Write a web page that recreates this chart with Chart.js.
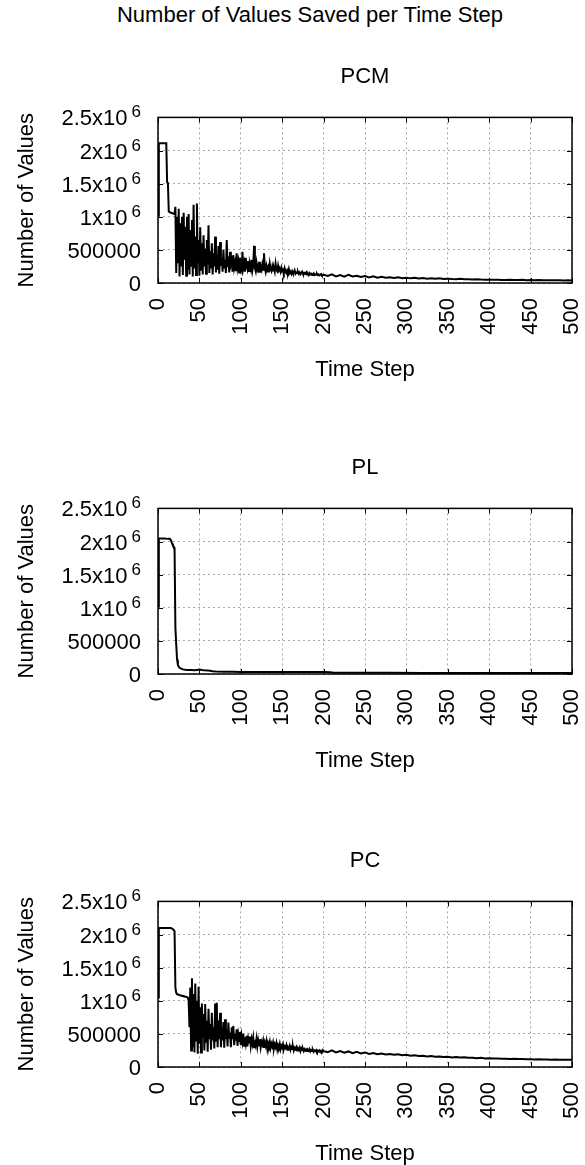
<!DOCTYPE html>
<html>
<head>
<meta charset="utf-8">
<script src="https://cdn.jsdelivr.net/npm/chart.js@4/dist/chart.umd.min.js"></script>
<style>
    html, body { margin: 0; padding: 0; background: #fff; overflow: hidden; }
    body { width: 585px; height: 1165px; position: relative; }
    canvas { position: absolute; left: 0; }
    #mainTitle {
        position: absolute; left: 0; top: 2px; width: 620px;
        text-align: center; font: 22px 'Liberation Sans', Arial, sans-serif;
        line-height: 26px; color: #000;
    }
</style>
</head>
<body>
<div id="mainTitle">Number of Values Saved per Time Step</div>
<canvas id="pcmChart" width="585" height="392" style="top:0px"></canvas>
<canvas id="plChart" width="585" height="392" style="top:391px"></canvas>
<canvas id="pcChart" width="585" height="392" style="top:784px"></canvas>
<script>
// Values are in thousands
// PCM and PC: one value per time step for 0..200, then every 5 steps up to 500
const pcmHead = [
    1020, 2110, 2110, 2110, 2110, 2110, 2110, 2110, 2110, 2110,
    2110, 1520, 1500, 1080, 1070, 1065, 1060, 1055, 1050, 1045,
    1040, 1150, 150, 1000, 300, 1120, 100, 900, 250, 1000,
    120, 1060, 350, 850, 110, 1000, 200, 1040, 130, 800,
    260, 950, 100, 1180, 220, 700, 120, 1200, 300, 650,
    110, 840, 200, 600, 130, 720, 250, 520, 140, 650,
    280, 870, 150, 480, 220, 600, 130, 450, 250, 700,
    160, 420, 200, 560, 140, 620, 260, 380, 170, 500,
    220, 350, 150, 650, 240, 400, 160, 470, 280, 330,
    170, 420, 230, 300, 180, 450, 240, 320, 160, 380,
    250, 200, 470, 230, 300, 170, 380, 260, 210, 330,
    180, 280, 220, 350, 190, 260, 560, 230, 180, 300,
    210, 260, 170, 320, 220, 190, 280, 200, 450, 230,
    170, 260, 200, 240, 160, 290, 210, 180, 250, 190,
    220, 170, 290, 200, 180, 260, 190, 210, 170, 230,
    180, 200, 160, 220, 170, 150, 190, 160, 210, 150,
    170, 140, 180, 150, 160, 190, 140, 160, 150, 170,
    140, 160, 130, 150, 170, 140, 130, 150, 140, 160,
    130, 140, 120, 150, 130, 140, 120, 130, 145, 120,
    130, 125, 140, 120, 130, 115, 125, 135, 115, 120,
    125
];
const pcmTail = [
    105, 130, 100, 120, 95, 125, 100, 110, 90, 105,
    85, 100, 80, 95, 78, 88, 75, 85, 72, 80,
    70, 78, 68, 74, 66, 72, 64, 70, 62, 66,
    60, 58, 64, 56, 55, 54, 58, 52, 50, 50,
    48, 50, 47, 46, 48, 45, 44, 50, 43, 44,
    42, 45, 42, 41, 43, 40, 40, 38, 40, 38
];

const plSteps = [
    0, 1, 4, 8, 12, 14, 15, 16, 17, 18,
    19, 20, 21, 22, 23, 24, 25, 26, 28, 30,
    33, 36, 40, 44, 47, 50, 53, 56, 60, 63,
    66, 70, 80, 90, 100, 120, 140, 160, 180, 200,
    208, 212, 240, 280, 320, 360, 400, 440, 480, 500
];
const plValues = [
    1020, 2045, 2045, 2045, 2040, 2040, 2030, 2010, 1970, 1940,
    1920, 1900, 700, 450, 220, 140, 110, 95, 80, 70,
    64, 60, 60, 58, 62, 66, 60, 56, 52, 48,
    40, 36, 34, 33, 32, 31, 31, 30, 30, 29,
    26, 20, 18, 17, 16, 16, 15, 15, 14, 14
];

const pcHead = [
    1050, 2100, 2100, 2100, 2100, 2100, 2100, 2100, 2100, 2100,
    2100, 2100, 2100, 2100, 2100, 2100, 2095, 2090, 2080, 2070,
    2050, 1200, 1120, 1100, 1100, 1090, 1085, 1080, 1080, 1075,
    1070, 1070, 1065, 1060, 1060, 1055, 1050, 1000, 600, 1200,
    250, 1340, 300, 1100, 220, 1260, 400, 1000, 200, 1210,
    350, 900, 220, 960, 450, 800, 250, 950, 380, 700,
    230, 880, 420, 650, 260, 820, 400, 600, 280, 960,
    380, 970, 300, 700, 420, 820, 300, 600, 400, 680,
    290, 720, 420, 560, 310, 670, 430, 520, 300, 600,
    420, 620, 330, 500, 400, 570, 320, 480, 390, 530,
    330, 470, 380, 500, 320, 450, 360, 470, 310, 430,
    370, 460, 320, 420, 350, 440, 300, 410, 340, 430,
    310, 400, 330, 420, 300, 380, 340, 400, 290, 370,
    320, 390, 280, 360, 320, 380, 290, 350, 310, 370,
    280, 340, 300, 360, 270, 330, 300, 350, 270, 320,
    290, 340, 270, 310, 290, 330, 260, 300, 280, 320,
    260, 300, 270, 310, 250, 290, 270, 300, 250, 280,
    260, 290, 240, 280, 255, 275, 240, 270, 250, 265,
    240, 260, 245, 270, 235, 255, 240, 260, 230, 250,
    240, 255, 230, 248, 235, 250, 228, 245, 232, 255,
    240
];
const pcTail = [
    225, 250, 220, 240, 215, 235, 210, 228, 205, 220,
    198, 212, 192, 205, 188, 196, 184, 192, 176, 184,
    170, 176, 165, 170, 160, 166, 155, 160, 150, 154,
    145, 150, 142, 146, 138, 140, 134, 138, 130, 132,
    127, 130, 124, 126, 121, 124, 119, 121, 117, 118,
    115, 116, 113, 114, 111, 112, 110, 109, 110, 108
];

const xTicksStep = 50;
const yTicksStep = 500000;
const FONT = "'Liberation Sans', Arial, sans-serif";

// time step index for the head and tail parts
const headSteps = pcmHead.map((v, i) => i);
const tailSteps = pcmTail.map((v, i) => 205 + i * 5);

function toPoints(steps, values) {
    return values.map((v, i) => ({ x: steps[i], y: v * 1000 }));
}

// gnuplot-like frame, mirrored inward ticks and 10^6 tick labels
const gnuplotFrame = {
    id: 'gnuplotFrame',
    afterDraw(chart) {
        const ctx = chart.ctx;
        const a = chart.chartArea;
        const xs = chart.scales.x;
        const ys = chart.scales.y;
        ctx.save();
        ctx.strokeStyle = '#000';
        ctx.lineWidth = 1.5;
        ctx.strokeRect(a.left, a.top, a.right - a.left, a.bottom - a.top);

        ctx.lineWidth = 1;
        ctx.beginPath();
        xs.ticks.forEach(t => {
            const px = Math.round(xs.getPixelForValue(t.value)) + 0.5;
            ctx.moveTo(px, a.bottom); ctx.lineTo(px, a.bottom - 5);
            ctx.moveTo(px, a.top); ctx.lineTo(px, a.top + 5);
        });
        ys.ticks.forEach(t => {
            const py = Math.round(ys.getPixelForValue(t.value)) + 0.5;
            ctx.moveTo(a.left, py); ctx.lineTo(a.left + 5, py);
            ctx.moveTo(a.right, py); ctx.lineTo(a.right - 5, py);
        });
        ctx.stroke();

        // y tick labels, right aligned 18px left of the axis
        ctx.fillStyle = '#000';
        ctx.textAlign = 'right';
        ctx.textBaseline = 'alphabetic';
        const right = a.left - 17;
        ys.ticks.forEach(t => {
            const py = ys.getPixelForValue(t.value) + 8;
            if (t.value >= 1000000) {
                ctx.font = '17px ' + FONT;
                ctx.fillText('6', right, py - 8);
                const w = ctx.measureText('6').width;
                ctx.font = '22px ' + FONT;
                ctx.fillText((t.value / 1000000) + 'x10', right - w - 4, py);
            } else {
                ctx.font = '22px ' + FONT;
                ctx.fillText(String(t.value), right, py);
            }
        });
        ctx.restore();
    }
};

function makeChart(canvasId, title, points) {
    const font = { family: FONT, size: 22 };
    return new Chart(document.getElementById(canvasId), {
        type: 'line',
        data: {
            datasets: [{
                data: points,
                borderColor: '#000',
                borderWidth: 2,
                pointRadius: 0,
                tension: 0,
                fill: false
            }]
        },
        options: {
            responsive: false,
            animation: false,
            events: [],
            layout: { padding: { right: 13 } },
            plugins: {
                legend: { display: false },
                tooltip: { enabled: false },
                title: {
                    display: true,
                    fullSize: false,
                    text: title,
                    color: '#000',
                    font: { family: FONT, size: 22, weight: 'normal' },
                    padding: { top: 64, bottom: 27 }
                }
            },
            scales: {
                x: {
                    type: 'linear',
                    min: 0,
                    max: 500,
                    ticks: {
                        stepSize: xTicksStep,
                        minRotation: 90,
                        maxRotation: 90,
                        padding: 15,
                        color: '#000',
                        font: font
                    },
                    grid: { color: '#a8a8a8', lineWidth: 1, drawTicks: false },
                    border: { display: false, dash: [2, 3] },
                    title: {
                        display: true,
                        text: 'Time Step',
                        color: '#000',
                        font: font,
                        padding: { top: 0, bottom: 9 }
                    },
                    afterFit(scale) {
                        scale.height = 109;
                        // rotated end labels should not shrink the plot
                        scale.paddingLeft = 0;
                        scale.paddingRight = 0;
                    }
                },
                y: {
                    min: 0,
                    max: 2500000,
                    ticks: { stepSize: yTicksStep, display: false },
                    grid: { color: '#a8a8a8', lineWidth: 1, drawTicks: false },
                    border: { display: false, dash: [2, 3] },
                    title: {
                        display: true,
                        text: 'Number of Values',
                        color: '#000',
                        font: font,
                        padding: { top: 14, bottom: 0 }
                    },
                    afterFit(scale) {
                        scale.width = 158;
                        scale.paddingTop = 0;
                        scale.paddingBottom = 0;
                    }
                }
            }
        },
        plugins: [gnuplotFrame]
    });
}

makeChart('pcmChart', 'PCM',
    toPoints(headSteps, pcmHead).concat(toPoints(tailSteps, pcmTail)));
makeChart('plChart', 'PL', toPoints(plSteps, plValues));
makeChart('pcChart', 'PC',
    toPoints(headSteps, pcHead).concat(toPoints(tailSteps, pcTail)));
</script>
</body>
</html>
